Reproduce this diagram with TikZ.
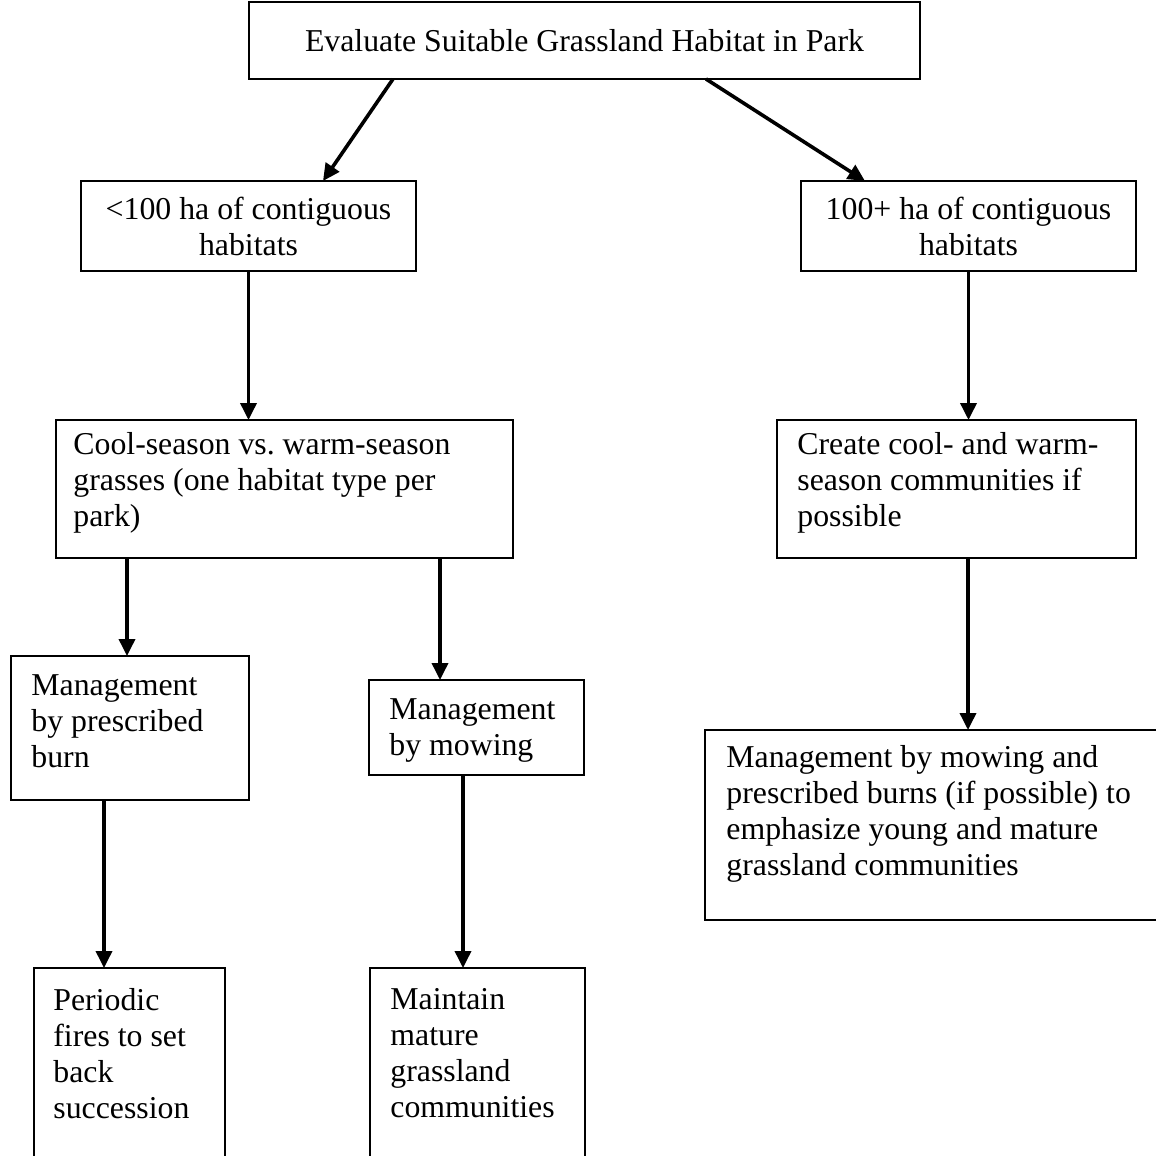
\documentclass[tikz,border=0pt]{standalone}
\usepackage{fontspec}
\setmainfont{Liberation Serif}
\usetikzlibrary{arrows.meta,calc}
\begin{document}
\frenchspacing
\begin{tikzpicture}[x=0.5pt,y=-0.5pt,
  box/.style={draw,line width=1pt,inner sep=0pt,outer sep=0pt,rectangle},
  ctext/.style={align=center,font=\fontsize{15.9pt}{18pt}\selectfont},
  ltext/.style={anchor=north west,inner sep=0pt,align=left,font=\fontsize{15.9pt}{18pt}\selectfont},
  arr/.style={line width=1.8pt,-{Triangle[width=8pt,length=8.5pt]}}]
\useasboundingbox (0,0) rectangle (1156,1156);
\clip (0,0) rectangle (1156,1156);
\node[box,ctext,minimum width=335.5pt,minimum height=38.5pt] (b1) at (584.5,40.5) {Evaluate Suitable Grassland Habitat in Park};
\node[box,ctext,minimum width=167.5pt,minimum height=45pt] (b2) at (248.5,226) {<100 ha of contiguous\\habitats};
\node[box,ctext,minimum width=167.5pt,minimum height=45pt] (b3) at (968.5,226) {100+ ha of contiguous\\habitats};
\node[box,minimum width=228.5pt,minimum height=69pt] (b4) at (284.5,489) {};
\node[box,minimum width=179.5pt,minimum height=69pt] (b5) at (956.5,489) {};
\node[box,minimum width=119pt,minimum height=72pt] (b6) at (130,728) {};
\node[box,minimum width=107.5pt,minimum height=47.5pt] (b7) at (476.5,727.5) {};
\node[box,minimum width=232.5pt,minimum height=95pt] (b8) at (937.5,825) {};
\node[box,minimum width=95.5pt,minimum height=101pt] (b9) at (129.5,1069) {};
\node[box,minimum width=107.5pt,minimum height=101pt] (b10) at (477.5,1069) {};
\node[ltext] (t4) at (73,432) {Cool-season vs. warm-season\\grasses (one habitat type per\\park)};
\node[ltext] (t5) at (797,432) {Create cool- and warm-\\season communities if\\possible};
\node[ltext] (t6) at (31,674) {Management\\by prescribed\\burn};
\node[ltext] (t7) at (389,698) {Management\\by mowing};
\node[ltext] (t8) at (726,745) {Management by mowing and\\prescribed burns (if possible) to\\emphasize young and mature\\grassland communities};
\node[ltext] (t9) at (53,988) {Periodic\\fires to set\\back\\succession};
\node[ltext] (t10) at (390,988) {Maintain\\mature\\grassland\\communities};
\draw[arr] ([xshift=72pt]b1.south west) -- ([xshift=121pt]b2.north west);
\draw[arr] ([xshift=228.5pt]b1.south west) -- ([xshift=32pt]b3.north west);
\draw[arr] (b2.south) -- (b2.south |- b4.north);
\draw[arr] (b3.south) -- (b3.south |- b5.north);
\draw[arr] ([xshift=35.5pt]b4.south west) -- ([xshift=35.5pt]b4.south west |- b6.north);
\draw[arr] ([xshift=192pt]b4.south west) -- ([xshift=192pt]b4.south west |- b7.north);
\draw[arr] ([xshift=95.5pt]b5.south west) -- ([xshift=95.5pt]b5.south west |- b8.north);
\draw[arr] ([xshift=46.5pt]b6.south west) -- ([xshift=46.5pt]b6.south west |- b9.north);
\draw[arr] ([xshift=47pt]b7.south west) -- ([xshift=47pt]b7.south west |- b10.north);
\end{tikzpicture}
\end{document}
